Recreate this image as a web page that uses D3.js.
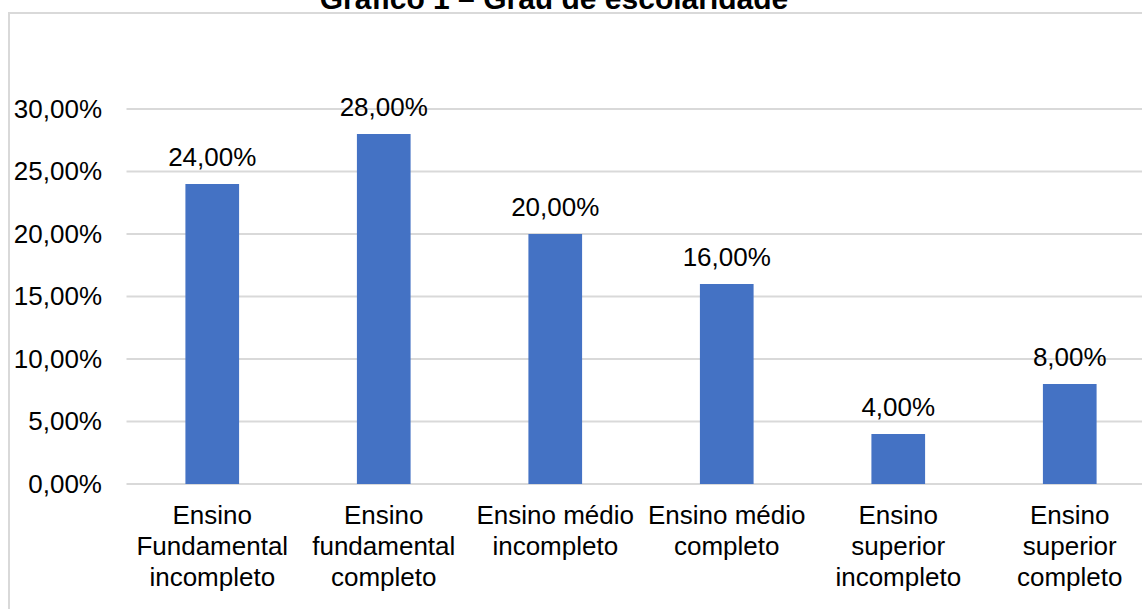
<!DOCTYPE html>
<html>
<head>
<meta charset="utf-8">
<script src="https://cdn.jsdelivr.net/npm/d3@7"></script>
<style>
  html, body { margin: 0; padding: 0; background: #fff; }
  svg { display: block; font-family: "Liberation Sans", Arial, sans-serif; }
</style>
</head>
<body>
<svg id="chart" width="1142" height="609"></svg>
<script>
// Escolaridade dos respondentes
const categories = [
  "Ensino Fundamental incompleto",
  "Ensino fundamental completo",
  "Ensino médio incompleto",
  "Ensino médio completo",
  "Ensino superior incompleto",
  "Ensino superior completo"
];
const categoryLines = [
  ["Ensino", "Fundamental", "incompleto"],
  ["Ensino", "fundamental", "completo"],
  ["Ensino médio", "incompleto"],
  ["Ensino médio", "completo"],
  ["Ensino", "superior", "incompleto"],
  ["Ensino", "superior", "completo"]
];
const values = [0.24, 0.28, 0.20, 0.16, 0.04, 0.08];
const yTicks = [0, 0.05, 0.10, 0.15, 0.20, 0.25, 0.30];
const titleText = "Gráfico 1 – Grau de escolaridade";

const ptBR = d3.formatLocale({ decimal: ",", thousands: ".", grouping: [3], currency: ["R$", ""] });
const pct = ptBR.format(".2%");

const svg = d3.select("#chart");
const W = 1142;

// Frame around the chart
svg.append("rect")
  .attr("x", 9).attr("y", 13)
  .attr("width", 1300).attr("height", 800)
  .attr("fill", "none")
  .attr("stroke", "#d9d9d9")
  .attr("stroke-width", 2);

// Title
svg.append("text")
  .attr("x", 554).attr("y", 8.5)
  .attr("text-anchor", "middle")
  .attr("font-size", 30)
  .attr("font-weight", "bold")
  .attr("fill", "#000")
  .text(titleText);

const plotLeft = 126.5, plotRight = 1155.5, plotTop = 109, plotBottom = 484;

const x = d3.scaleBand().domain(categories).range([plotLeft, plotRight]).padding(0);
const y = d3.scaleLinear().domain([0, 0.30]).range([plotBottom, plotTop]);
const barW = x.bandwidth() * 0.313;

// Horizontal gridlines
svg.append("g").selectAll("line")
  .data(yTicks)
  .join("line")
  .attr("x1", plotLeft).attr("x2", W)
  .attr("y1", d => y(d)).attr("y2", d => y(d))
  .attr("stroke", "#d9d9d9")
  .attr("stroke-width", 2);

// Y axis labels
const yAxis = svg.append("g")
  .attr("transform", `translate(${plotLeft},0)`)
  .call(d3.axisLeft(y).tickValues(yTicks).tickFormat(pct).tickSize(0).tickPadding(24.5));
yAxis.select(".domain").remove();
yAxis.selectAll("text")
  .attr("font-size", 26)
  .attr("font-family", "Liberation Sans, Arial, sans-serif")
  .attr("fill", "#000");

// Bars
svg.append("g").selectAll("rect")
  .data(values)
  .join("rect")
  .attr("x", (d, i) => x(categories[i]) + (x.bandwidth() - barW) / 2)
  .attr("y", d => y(d))
  .attr("width", barW)
  .attr("height", d => y(0) - y(d))
  .attr("fill", "#4472c4");

// Value labels
svg.append("g").selectAll("text")
  .data(values)
  .join("text")
  .attr("x", (d, i) => x(categories[i]) + x.bandwidth() / 2)
  .attr("y", d => y(d) - 18)
  .attr("text-anchor", "middle")
  .attr("font-size", 26)
  .attr("fill", "#000")
  .text(d => pct(d));

// Category labels (multi-line)
const xAxis = svg.append("g")
  .attr("transform", `translate(0,${plotBottom})`)
  .call(d3.axisBottom(x).tickSize(0).tickFormat(""));
xAxis.select(".domain").remove();
xAxis.selectAll(".tick").each(function (d, i) {
  const t = d3.select(this).append("text")
    .attr("text-anchor", "middle")
    .attr("font-size", 26)
    .attr("font-family", "Liberation Sans, Arial, sans-serif")
    .attr("fill", "#000");
  categoryLines[i].forEach((line, k) => {
    t.append("tspan").attr("x", 0).attr("y", 39.5 + k * 31).text(line);
  });
});
</script>
</body>
</html>
